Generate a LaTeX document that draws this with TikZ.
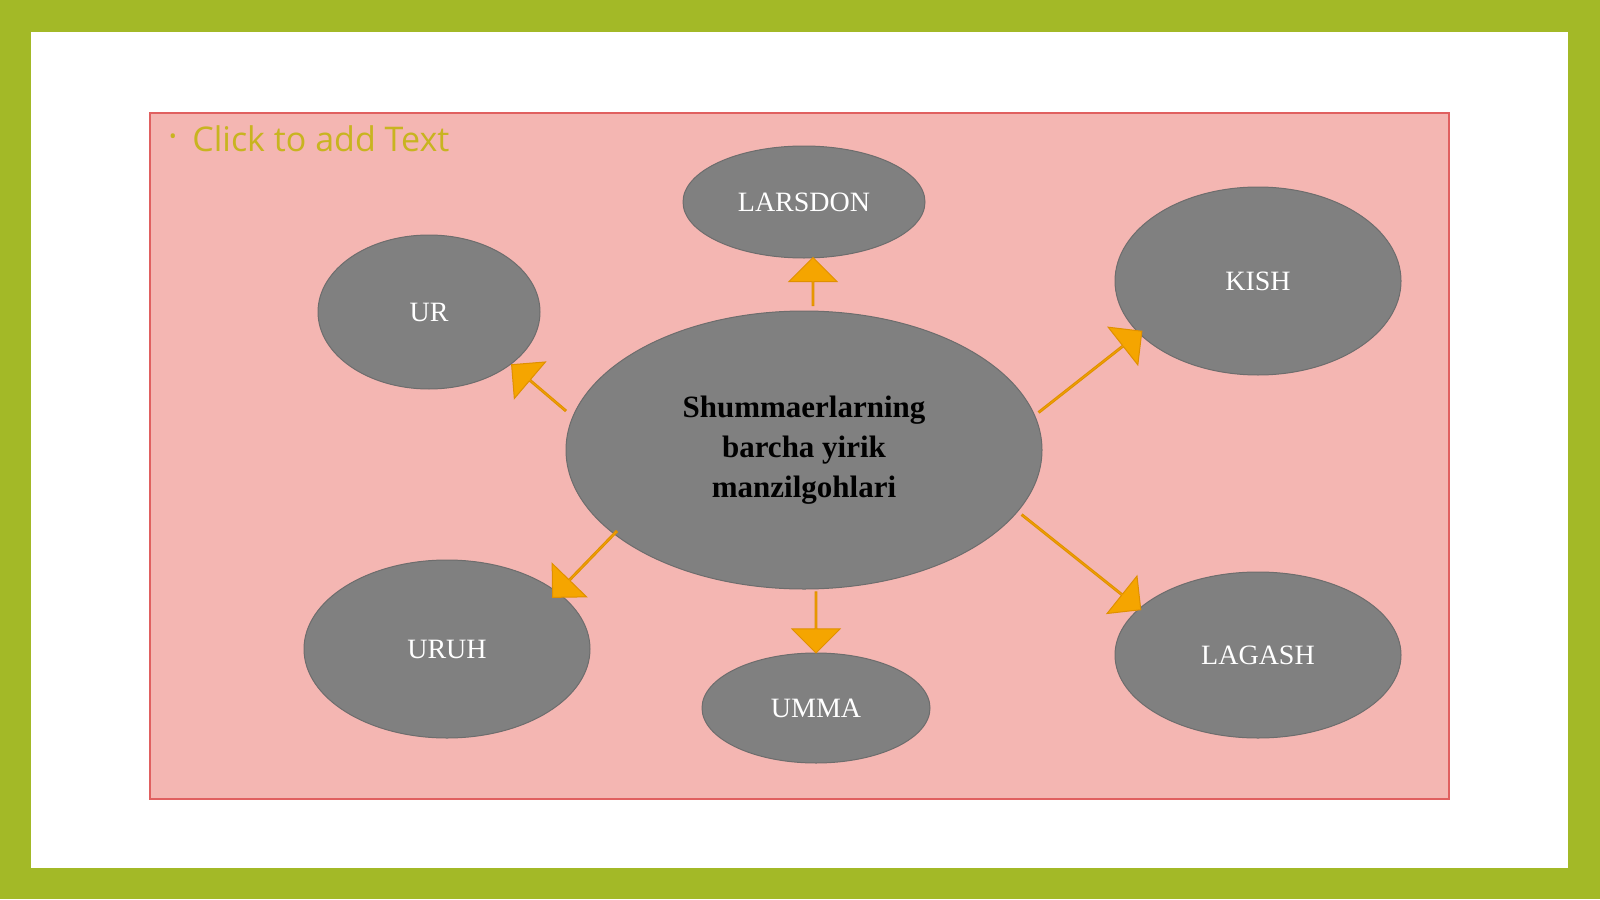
\documentclass[tikz,border=0pt]{standalone}
\usepackage{fontspec}
\setmainfont{Liberation Serif}
\newfontfamily\ph{Open Sans}
\usetikzlibrary{shapes.arrows,shapes.geometric}
\definecolor{grn}{HTML}{A3B927}
\definecolor{pnk}{HTML}{F4B6B2}
\definecolor{pnkb}{HTML}{E06060}
\definecolor{gry}{HTML}{808080}
\definecolor{org}{HTML}{F5A500}
\definecolor{orgb}{HTML}{E09000}
\definecolor{phc}{HTML}{C8B420}
\begin{document}
\begin{tikzpicture}[x=0.5pt,y=-0.5pt,
 ell/.style={ellipse,fill=gry,draw=gry!85!black,line width=0.5pt,text=white,font=\fontsize{14}{16}\selectfont,inner sep=0pt},
 barr/.style={single arrow,fill=org,draw=orgb,line width=0.5pt,inner sep=0pt,minimum width=24pt,single arrow head extend=6pt,single arrow head indent=0pt}]
\useasboundingbox (0,0) rectangle (1600,899);
\fill[grn] (0,0) rectangle (1600,899);
\fill[white] (31,32) rectangle (1568,868);
\fill[pnk,draw=pnkb,line width=0.6pt] (150,113) rectangle (1449,799);
\node[anchor=base west,text=phc,font=\ph\fontsize{17}{20}\selectfont,inner sep=0pt] (ph) at (192,151) {Click to add Text};
\node[text=phc,font=\ph\fontsize{10}{12}\selectfont,inner sep=0pt] (bul) at (173,139) {•};
\node[ell,minimum width=238pt,minimum height=139pt,text=black,font=\bfseries\fontsize{15.5}{20}\selectfont,align=center] (c) at (804,450) {Shummaerlarning\\barcha yirik\\manzilgohlari};
\node[ell,minimum width=121pt,minimum height=56pt] (lar) at (804,202) {LARSDON};
\node[ell,minimum width=143pt,minimum height=94pt] (kish) at (1258,281) {KISH};
\node[ell,minimum width=111pt,minimum height=77pt] (ur) at (429,312) {UR};
\node[ell,minimum width=143pt,minimum height=89pt] (uruh) at (447,649) {URUH};
\node[ell,minimum width=114pt,minimum height=55pt] (umma) at (816,708) {UMMA};
\node[ell,minimum width=143pt,minimum height=83pt] (lag) at (1258,655) {LAGASH};
\node[barr,minimum height=24pt,rotate=90] (a1) at (813,282) {};
\node[barr,minimum height=65.5pt,rotate=38.2] (a2) at (1090,372) {};
\node[barr,minimum height=35.5pt,rotate=139.6] (a3) at (539,388) {};
\node[barr,minimum height=46pt,rotate=225.9] (a4) at (585,564) {};
\node[barr,minimum height=30.5pt,rotate=-90] (a5) at (816,622) {};
\node[barr,minimum height=76pt,rotate=-38.6] (a6) at (1081,562) {};
\end{tikzpicture}
\end{document}
